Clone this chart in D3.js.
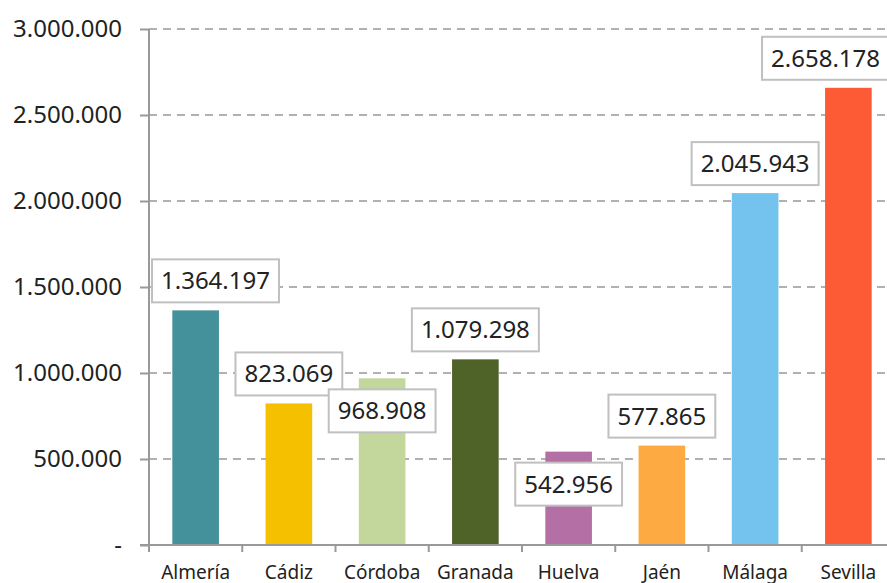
<!DOCTYPE html>
<html><head><meta charset="utf-8">
<script src="https://cdn.jsdelivr.net/npm/d3@7"></script>
<style>
html,body{margin:0;padding:0;background:#fff;overflow:hidden}
svg{display:block;font-family:"Noto Sans",sans-serif}
</style></head>
<body>
<svg id="c" width="887" height="583"></svg>
<script>
const categories = ["Almería","Cádiz","Córdoba","Granada","Huelva","Jaén","Málaga","Sevilla"];
const values = [1364197, 823069, 968908, 1079298, 542956, 577865, 2045943, 2658178];
const colors = ["#45919b","#f5c000","#c3d69b","#4f6228","#b46fa5","#fdaa43","#73c3ee","#fd5a36"];
const labelBelowTop = [false,false,true,false,true,false,false,false];
const yTicks = [0,500000,1000000,1500000,2000000,2500000,3000000];

const fmt = v => v === 0 ? "-" : d3.format(",")(v).replace(/,/g, ".");

const svg = d3.select("#c");
const x = d3.scaleBand().domain(categories).range([149, 895]).paddingInner(0.5).paddingOuter(0.25);
const y = d3.scaleLinear().domain([0, 3000000]).range([545, 29]);

// gridlines
svg.append("g").selectAll("line").data(yTicks.filter(d => d > 0)).join("line")
  .attr("x1", 149).attr("x2", 900)
  .attr("y1", d => y(d)).attr("y2", d => y(d))
  .attr("stroke", "#b0b0b0").attr("stroke-width", 2).attr("stroke-dasharray", "8,6");

// bars
svg.append("g").selectAll("rect").data(values).join("rect")
  .attr("x", (d, i) => x(categories[i]))
  .attr("width", x.bandwidth())
  .attr("y", d => y(d))
  .attr("height", d => y(0) - y(d))
  .attr("fill", (d, i) => colors[i]);

// y axis
const yAxis = d3.axisLeft(y).tickValues(yTicks).tickFormat(fmt).tickSize(9).tickPadding(18);
const gy = svg.append("g").attr("transform", "translate(149,0)").call(yAxis);
gy.select(".domain").attr("stroke", "#999").attr("stroke-width", 2).attr("d", "M0,29V545");
gy.selectAll(".tick line").attr("stroke", "#999").attr("stroke-width", 2);
gy.selectAll(".tick text").attr("font-size", 24).attr("fill", "#222").attr("font-family", "Noto Sans");

// x axis
const xAxis = d3.axisBottom(x).tickSize(7).tickSizeOuter(0).tickFormat(d => d);
const gx = svg.append("g").attr("transform", "translate(0,545)").call(xAxis);
gx.select(".domain").attr("stroke", "#999").attr("stroke-width", 2).attr("d", "M140,0H900");
gx.selectAll(".tick line").attr("stroke", "#999").attr("stroke-width", 2)
  .attr("transform", `translate(${-x.step()/2},0)`);
gx.append("line").attr("x1", 895).attr("x2", 895).attr("y1", 0).attr("y2", 7).attr("stroke", "#999").attr("stroke-width", 2);
gx.selectAll(".tick text").attr("font-size", 19).attr("fill", "#222").attr("font-family", "Noto Sans").attr("dy", null).attr("y", 34);

// data labels
const lg = svg.append("g");
values.forEach((v, i) => {
  const g = lg.append("g");
  const t = g.append("text").text(fmt(v)).attr("font-size", 24).attr("fill", "#222")
    .attr("text-anchor", "middle");
  const tw = t.node().getComputedTextLength();
  const bw = tw + 18, bh = 43;
  let cx = x(categories[i]) + x.bandwidth() / 2;
  cx = Math.max(152 + bw / 2, Math.min(889 - bw / 2, cx));
  const top = labelBelowTop[i] ? y(v) + 11 : y(v) - 8 - bh;
  g.insert("rect", "text").attr("x", cx - bw / 2).attr("y", top).attr("width", bw).attr("height", bh)
    .attr("fill", "#fff").attr("stroke", "#c0c0c0").attr("stroke-width", 2);
  t.attr("x", cx).attr("y", top + bh / 2 + 8.5);
});
</script>
</body></html>
